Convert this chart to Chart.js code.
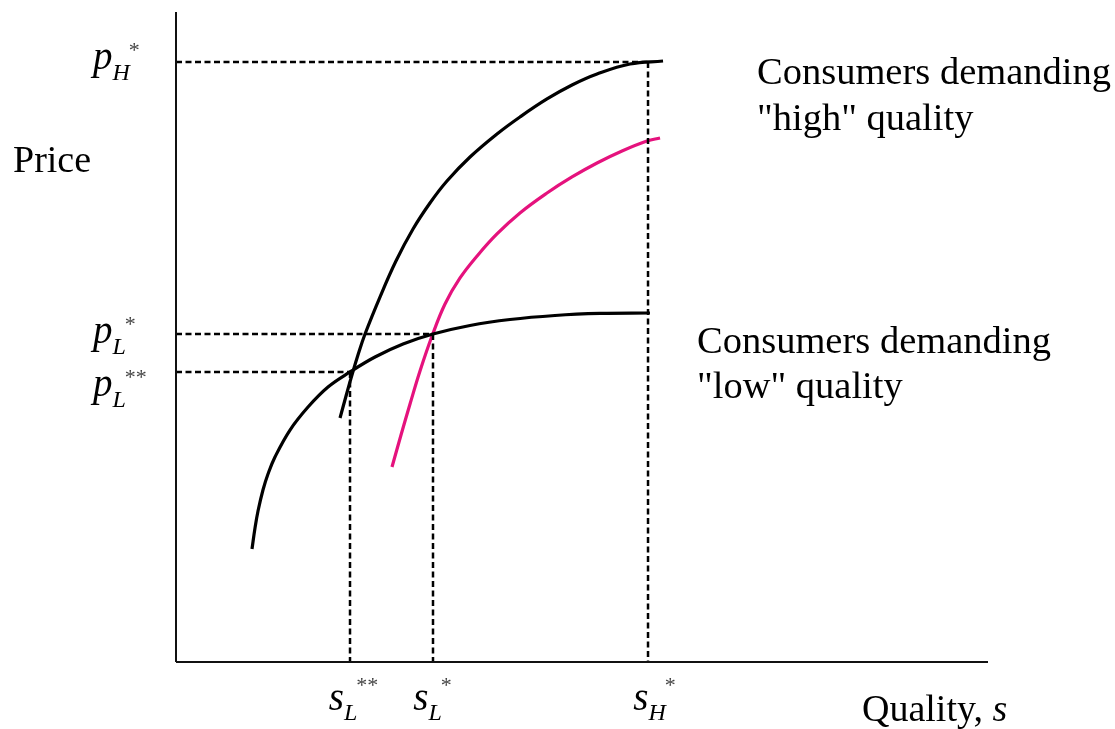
<!DOCTYPE html>
<html>
<head>
<meta charset="utf-8">
<script src="https://cdn.jsdelivr.net/npm/chart.js@4"></script>
<style>
html,body{margin:0;padding:0;background:#fff;}
canvas{display:block;}
</style>
</head>
<body>
<canvas id="c" width="1115" height="729"></canvas>
<script>
// ---- data (quality s on x, price on y; both axes run 0..100) ----
const qualityHigh = [20.20, 20.94, 21.67, 22.41, 23.28, 25.12, 27.09, 29.19, 31.28, 33.37, 36.21, 39.53, 42.36, 45.69, 48.77, 51.85, 55.91, 59.98];
const priceHigh   = [37.54, 40.92, 44.15, 47.23, 50.46, 56.15, 61.69, 66.62, 70.62, 74.00, 77.69, 81.23, 83.85, 86.62, 88.77, 90.46, 92.00, 92.46];

const qualityMid  = [26.60, 27.71, 28.82, 30.05, 31.53, 33.13, 34.98, 37.19, 39.53, 42.36, 45.69, 48.77, 51.85, 54.93, 58.00, 59.61];
const priceMid    = [30.00, 34.92, 39.69, 44.77, 50.15, 55.08, 59.08, 62.62, 65.85, 69.08, 72.15, 74.62, 76.77, 78.62, 80.15, 80.62];

const qualityLow  = [9.36, 9.73, 10.10, 10.71, 11.33, 12.19, 14.04, 16.26, 18.72, 21.43, 24.51, 27.96, 31.65, 36.21, 41.13, 46.67, 52.22, 58.37];
const priceLow    = [17.38, 20.62, 23.23, 26.46, 28.92, 31.54, 35.69, 39.23, 42.31, 44.62, 46.92, 48.92, 50.46, 51.77, 52.69, 53.31, 53.62, 53.69];

// equilibrium points (s, p)
const eqQuality = [58.13, 31.65, 21.43];
const eqPrice   = [92.31, 50.46, 44.62];
const eqSub     = ['H', 'L', 'L'];
const eqSup     = ['*', '*', '**'];

const yAxisTitle = 'Price';
const xAxisTitle = 'Quality, ';
const xAxisSymbol = 's';
const highLabel = ['Consumers demanding', '"high" quality'];
const lowLabel  = ['Consumers demanding', '"low" quality'];

// ---- build datasets ----
const toPts = (xs, ys) => xs.map((x, i) => ({x: x, y: ys[i]}));
const curve = (xs, ys, color) => ({
  data: toPts(xs, ys), borderColor: color, borderWidth: 3.2, pointRadius: 0,
  showLine: true, fill: false, tension: 0.4, clip: false,
  borderCapStyle: 'butt'
});
const guide = (pts) => ({
  data: pts, borderColor: '#000', borderWidth: 2.5, borderDash: [6, 3.5],
  pointRadius: 0, showLine: true, fill: false, tension: 0, clip: false
});

const datasets = [];
datasets.push({data: [{x:0,y:0},{x:100,y:0}], borderColor:'#111', borderWidth:2, pointRadius:0, showLine:true, clip:false});
datasets.push({data: [{x:0,y:0},{x:0,y:100}], borderColor:'#111', borderWidth:2, pointRadius:0, showLine:true, clip:false});
eqQuality.forEach((s, i) => {
  const p = eqPrice[i];
  datasets.push(guide([{x:0, y:p}, {x:s, y:p}]));
  datasets.push(guide([{x:s, y:p}, {x:s, y:0}]));
});
datasets.push(curve(qualityLow, priceLow, '#000'));
datasets.push(curve(qualityHigh, priceHigh, '#000'));
datasets.push(curve(qualityMid, priceMid, '#e5127d'));

const SERIF = '"Liberation Serif", "Times New Roman", serif';

const labelPlugin = {
  id: 'labels',
  afterDraw(chart) {
    const ctx = chart.ctx;
    const xs = chart.scales.x, ys = chart.scales.y;
    ctx.save();
    ctx.fillStyle = '#000';
    ctx.textBaseline = 'alphabetic';
    ctx.textAlign = 'left';

    // y-axis title
    ctx.font = '38px ' + SERIF;
    ctx.fillText(yAxisTitle, 13, 172);

    // curve labels
    ctx.font = '38.5px ' + SERIF;
    ctx.fillText(highLabel[0], 757, 84);
    ctx.fillText(highLabel[1], 757, 130);
    ctx.fillText(lowLabel[0], 697, 353);
    ctx.fillText(lowLabel[1], 697, 398);

    // x-axis title
    ctx.font = '38px ' + SERIF;
    ctx.fillText(xAxisTitle, 862, 721);
    const w = ctx.measureText(xAxisTitle).width;
    ctx.font = 'italic 38px ' + SERIF;
    ctx.fillText(xAxisSymbol, 862 + w, 721);

    // composite math label: base, subscript, superscript
    const comp = (base, sub, sup, x, baseY, subDy, supDy) => {
      ctx.fillStyle = '#000';
      ctx.font = 'italic 39px ' + SERIF;
      ctx.fillText(base, x, baseY);
      const bw = ctx.measureText(base).width;
      ctx.font = 'italic 24px ' + SERIF;
      ctx.fillText(sub, x + bw, baseY + subDy);
      const sw = ctx.measureText(sub).width;
      ctx.fillStyle = '#444';
      ctx.font = '22px ' + SERIF;
      ctx.fillText(sup, x + bw + sw - 1, baseY + supDy);
      ctx.fillStyle = '#000';
    };
    const measure = (base, sub, sup) => {
      ctx.font = 'italic 39px ' + SERIF;
      let t = ctx.measureText(base).width;
      ctx.font = 'italic 24px ' + SERIF;
      t += ctx.measureText(sub).width;
      ctx.font = '22px ' + SERIF;
      t += ctx.measureText(sup).width;
      return t;
    };

    // price labels (left of y-axis)
    const pBaseDy = [7, 9, 24];
    eqPrice.forEach((p, i) => {
      const py = ys.getPixelForValue(p);
      comp('p', eqSub[i], eqSup[i], 93, py + pBaseDy[i], 11, -12);
    });

    // quality labels (below x-axis)
    const axisY = ys.getPixelForValue(0);
    const sDx = [7, 0, 4];
    eqQuality.forEach((s, i) => {
      const px = xs.getPixelForValue(s);
      const tw = measure('s', eqSub[i], eqSup[i]);
      comp('s', eqSub[i], eqSup[i], px - tw / 2 + sDx[i], axisY + 48, 10, -18);
    });
    ctx.restore();
  }
};

new Chart(document.getElementById('c'), {
  type: 'scatter',
  data: { datasets: datasets },
  options: {
    responsive: false,
    animation: false,
    devicePixelRatio: 1,
    layout: { padding: { left: 176, right: 127, top: 12, bottom: 67 } },
    plugins: { legend: { display: false }, tooltip: { enabled: false } },
    scales: {
      x: { type: 'linear', min: 0, max: 100, display: false },
      y: { type: 'linear', min: 0, max: 100, display: false }
    }
  },
  plugins: [labelPlugin]
});
</script>
</body>
</html>
